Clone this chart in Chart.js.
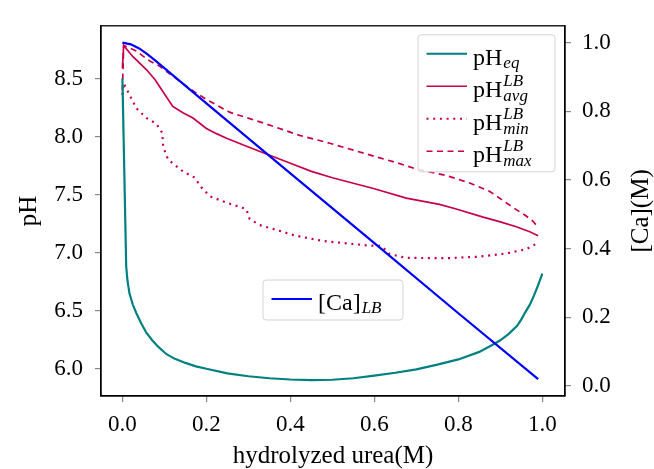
<!DOCTYPE html>
<html>
<head>
<meta charset="utf-8">
<script src="https://cdn.jsdelivr.net/npm/chart.js@4.4.1/dist/chart.umd.min.js"></script>
<style>
    html, body { margin: 0; padding: 0; background: #fff; }
</style>
</head>
<body>
<canvas id="chart" width="654" height="469"></canvas>
<script>
// values
const xTicks = [0.0, 0.2, 0.4, 0.6, 0.8, 1.0];
const phTicks = [6.0, 6.5, 7.0, 7.5, 8.0, 8.5];
const caTicks = [0.0, 0.2, 0.4, 0.6, 0.8, 1.0];

const eqX  = [0, 0.009, 0.012, 0.017, 0.025, 0.033, 0.045, 0.057, 0.07, 0.085, 0.105, 0.125, 0.15, 0.175, 0.2, 0.25, 0.3, 0.35, 0.4, 0.45, 0.5, 0.55, 0.6, 0.65, 0.7, 0.75, 0.8, 0.85, 0.886, 0.9, 0.92, 0.94, 0.95, 0.96, 0.97, 0.98, 0.99, 1.0];
const eqPH = [8.5, 6.88, 6.76, 6.645, 6.55, 6.48, 6.39, 6.31, 6.25, 6.19, 6.125, 6.085, 6.05, 6.02, 6.0, 5.96, 5.935, 5.918, 5.907, 5.902, 5.905, 5.918, 5.94, 5.965, 5.995, 6.035, 6.08, 6.145, 6.215, 6.245, 6.3, 6.37, 6.425, 6.49, 6.55, 6.63, 6.72, 6.82];

const avgX  = [0, 0.003, 0.025, 0.057, 0.077, 0.097, 0.12, 0.144, 0.168, 0.2, 0.224, 0.248, 0.3, 0.343, 0.4, 0.45, 0.5, 0.6, 0.676, 0.755, 0.795, 0.859, 0.9, 0.938, 0.97, 0.99];
const avgPH = [8.59, 8.785, 8.688, 8.577, 8.494, 8.384, 8.26, 8.205, 8.16, 8.07, 8.025, 7.985, 7.91, 7.85, 7.77, 7.7, 7.645, 7.55, 7.47, 7.416, 7.376, 7.306, 7.265, 7.223, 7.18, 7.146];

const minX  = [0, 0.003, 0.033, 0.057, 0.081, 0.095, 0.097, 0.109, 0.12, 0.144, 0.172, 0.188, 0.208, 0.248, 0.295, 0.303, 0.327, 0.367, 0.41, 0.478, 0.581, 0.617, 0.636, 0.676, 0.771, 0.85, 0.914, 0.962, 0.99];
const minPH = [8.36, 8.46, 8.245, 8.16, 8.11, 8.03, 7.91, 7.80, 7.77, 7.70, 7.646, 7.563, 7.486, 7.43, 7.375, 7.29, 7.237, 7.196, 7.148, 7.10, 7.063, 7.057, 6.988, 6.955, 6.952, 6.965, 6.993, 7.03, 7.085];

const maxX  = [0, 0.003, 0.033, 0.061, 0.089, 0.12, 0.15, 0.172, 0.2, 0.255, 0.343, 0.422, 0.494, 0.6, 0.652, 0.7, 0.771, 0.827, 0.875, 0.914, 0.93, 0.96, 0.978, 0.99];
const maxPH = [8.4, 8.785, 8.738, 8.66, 8.605, 8.52, 8.44, 8.385, 8.32, 8.21, 8.108, 8.01, 7.942, 7.83, 7.776, 7.72, 7.665, 7.60, 7.527, 7.43, 7.389, 7.32, 7.27, 7.217];

const caX = [0, 0.02, 0.04, 0.06, 0.08, 0.2, 0.4, 0.6, 0.8, 0.99];
const caM = [1.0, 0.995, 0.983, 0.966, 0.946, 0.823, 0.619, 0.416, 0.212, 0.02];

const FONT = "'Liberation Serif', 'DejaVu Serif', serif";
const TEAL = '#008080';
const CRIMSON = '#c8004a';
const BLUE = '#0000ff';
const DOT = [2, 4.7];
const DASH = [6, 4.5];

const pts = (xs, ys) => xs.map((x, i) => ({ x: x, y: ys[i] }));

// legend entries: base text plus optional italic super/subscripts
const legendMain = [
    { base: 'pH', sub: 'eq', color: TEAL, width: 2, dash: [] },
    { base: 'pH', sup: 'LB', sub: 'avg', color: CRIMSON, width: 1.6, dash: [] },
    { base: 'pH', sup: 'LB', sub: 'min', color: CRIMSON, width: 2, dash: DOT },
    { base: 'pH', sup: 'LB', sub: 'max', color: CRIMSON, width: 1.6, dash: DASH }
];
const legendCa = [
    { base: '[Ca]', sub: 'LB', color: BLUE, width: 2, dash: [] }
];

function roundBox(ctx, x, y, w, h, r) {
    ctx.beginPath();
    ctx.moveTo(x + r, y);
    ctx.lineTo(x + w - r, y);
    ctx.quadraticCurveTo(x + w, y, x + w, y + r);
    ctx.lineTo(x + w, y + h - r);
    ctx.quadraticCurveTo(x + w, y + h, x + w - r, y + h);
    ctx.lineTo(x + r, y + h);
    ctx.quadraticCurveTo(x, y + h, x, y + h - r);
    ctx.lineTo(x, y + r);
    ctx.quadraticCurveTo(x, y, x + r, y);
    ctx.closePath();
}

function drawLabel(ctx, x, y, e) {
    ctx.fillStyle = '#000';
    ctx.textBaseline = 'alphabetic';
    ctx.textAlign = 'left';
    ctx.font = `24px ${FONT}`;
    ctx.fillText(e.base, x, y);
    const w = ctx.measureText(e.base).width + 1;
    ctx.font = `italic 17px ${FONT}`;
    if (e.sup) ctx.fillText(e.sup, x + w, y - 11);
    if (e.sub) ctx.fillText(e.sub, x + w, y + (e.sup ? 4 : 3));
}

function drawLegend(ctx, left, top, w, h, rows, rowGap) {
    ctx.save();
    roundBox(ctx, left, top, w, h, 3);
    ctx.fillStyle = 'rgba(255,255,255,0.85)';
    ctx.fill();
    ctx.strokeStyle = '#d4d4d4';
    ctx.lineWidth = 1;
    ctx.stroke();
    rows.forEach((e, i) => {
        const ly = top + 19 + i * rowGap;
        ctx.beginPath();
        ctx.setLineDash(e.dash);
        ctx.strokeStyle = e.color;
        ctx.lineWidth = e.width;
        ctx.moveTo(left + 8.5, ly);
        ctx.lineTo(left + 49, ly);
        ctx.stroke();
        ctx.setLineDash([]);
        drawLabel(ctx, left + 55, ly + 11, e);
    });
    ctx.restore();
}

const framePlugin = {
    id: 'frameAndLegends',
    afterDraw(chart) {
        const ctx = chart.ctx;
        const ca = chart.chartArea;
        ctx.save();
        ctx.strokeStyle = '#000';
        ctx.lineWidth = 1.3;
        ctx.strokeRect(ca.left, ca.top, ca.right - ca.left, ca.bottom - ca.top);

        // right axis title, reading bottom to top like the reference
        ctx.translate(641, (ca.top + ca.bottom) / 2);
        ctx.rotate(-Math.PI / 2);
        ctx.fillStyle = '#000';
        ctx.font = `25px ${FONT}`;
        ctx.textAlign = 'center';
        ctx.textBaseline = 'middle';
        ctx.fillText('[Ca](M)', 0, 0);
        ctx.restore();

        drawLegend(ctx, ca.right - 147, ca.top + 9, 137, 137, legendMain, 32.5);
        const cx = (ca.left + ca.right) / 2;
        drawLegend(ctx, cx - 70, ca.bottom - 116, 140, 40, legendCa, 0);
    }
};

const tickGrid = { display: true, drawOnChartArea: false, drawTicks: true, tickLength: 6, color: '#888', lineWidth: 1.2 };
const axisBorder = { display: true, color: '#000', width: 1.3 };
const tickFont = { family: FONT, size: 23 };
const titleFont = { family: FONT, size: 25 };

new Chart(document.getElementById('chart'), {
    type: 'line',
    data: {
        datasets: [
            {
                label: '[Ca]_LB',
                data: pts(caX, caM),
                yAxisID: 'y1',
                borderColor: BLUE,
                borderWidth: 2.2
            },
            {
                label: 'pH_eq',
                data: pts(eqX, eqPH),
                yAxisID: 'y',
                borderColor: TEAL,
                borderWidth: 2.2
            },
            {
                label: 'pH_avg',
                data: pts(avgX, avgPH),
                yAxisID: 'y',
                borderColor: CRIMSON,
                borderWidth: 1.7
            },
            {
                label: 'pH_min',
                data: pts(minX, minPH),
                yAxisID: 'y',
                borderColor: CRIMSON,
                borderWidth: 2.2,
                borderDash: DOT
            },
            {
                label: 'pH_max',
                data: pts(maxX, maxPH),
                yAxisID: 'y',
                borderColor: CRIMSON,
                borderWidth: 1.7,
                borderDash: DASH
            }
        ]
    },
    options: {
        responsive: false,
        animation: false,
        devicePixelRatio: 1,
        layout: { padding: { top: 11, left: 0, right: 0, bottom: 0 } },
        elements: {
            point: { radius: 0 },
            line: { tension: 0, fill: false }
        },
        plugins: {
            legend: { display: false },
            tooltip: { enabled: false }
        },
        scales: {
            x: {
                type: 'linear',
                position: 'bottom',
                min: -0.051,
                max: 1.054,
                afterBuildTicks: s => { s.ticks = xTicks.map(v => ({ value: v })); },
                afterFit: s => { s.height = 73; },
                ticks: { font: tickFont, color: '#000', padding: 9, maxRotation: 0, callback: v => v.toFixed(1) },
                grid: tickGrid,
                border: axisBorder,
                title: { display: true, text: 'hydrolyzed urea(M)', color: '#000', font: titleFont, padding: { top: 0, bottom: -2 } }
            },
            y: {
                type: 'linear',
                position: 'left',
                min: 5.765,
                max: 8.954,
                afterBuildTicks: s => { s.ticks = phTicks.map(v => ({ value: v })); },
                afterFit: s => { s.width = 101; },
                ticks: { font: tickFont, color: '#000', padding: 12, callback: v => v.toFixed(1) },
                grid: tickGrid,
                border: axisBorder,
                title: { display: true, text: 'pH', color: '#000', font: titleFont, padding: { top: 14, bottom: 0 } }
            },
            y1: {
                type: 'linear',
                position: 'right',
                min: -0.029,
                max: 1.049,
                afterBuildTicks: s => { s.ticks = caTicks.map(v => ({ value: v })); },
                afterFit: s => { s.width = 89; },
                ticks: { font: tickFont, color: '#000', padding: 11, callback: v => v.toFixed(1) },
                grid: tickGrid,
                border: axisBorder
            }
        }
    },
    plugins: [framePlugin]
});
</script>
</body>
</html>
